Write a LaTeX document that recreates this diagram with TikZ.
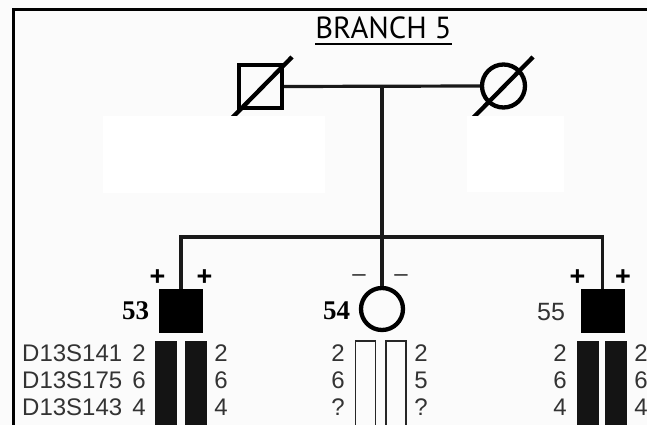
\documentclass[tikz,border=0pt]{standalone}
\usepackage{fontspec}
\setmainfont{Liberation Sans}
\newfontfamily\titlefont{PT Sans}
\newfontfamily\serifnum{Liberation Serif}
\definecolor{bgpaper}{gray}{0.985}
\definecolor{ink}{gray}{0.2}
\begin{document}
\begin{tikzpicture}[x=1pt,y=-1pt,
  sym/.style={draw=black,line width=4.3pt,inner sep=0pt},
  sqsym/.style={sym,rectangle,minimum size=43pt},
  circsym/.style={sym,circle,minimum size=43pt},
  affected/.style={rectangle,fill=black,draw=black,line width=1pt,inner sep=0pt,minimum size=43pt},
  fullbar/.style={rectangle,fill=black!92,inner sep=0pt,minimum width=22pt,minimum height=100pt},
  openbar/.style={rectangle,draw=black!85,line width=1.6pt,inner sep=0pt,minimum width=20pt,minimum height=100pt},
  allele/.style={inner sep=0pt,text=ink,font=\fontsize{24}{24}\selectfont},
  marker/.style={allele,anchor=west},
  sign/.style={inner sep=0pt,font=\bfseries\fontsize{27}{27}\selectfont},
  idnum/.style={inner sep=0pt,font=\serifnum\bfseries\fontsize{27}{27}\selectfont},
  link/.style={line width=3.2pt,draw=black!90},
  patch/.style={fill=white,draw=none}]
\useasboundingbox (0,0) rectangle (647,425);
\clip (0,0) rectangle (647,425);
\fill[bgpaper] (0,0) rectangle (647,425);
% frame
\draw[line width=3pt] (13,430) -- (13,10) -- (650,10);
% title
\node[inner sep=0pt,font=\titlefont\fontsize{30.5}{30.5}\selectfont] (title) at (383.5,28) {BRANCH 5};
\draw[line width=1.8pt] ([yshift=-5pt]title.south west) -- ([yshift=-5pt]title.south east);
% parents
\node[sqsym] (f) at (260.5,86.5) {};
\node[circsym] (m) at (503.5,86) {};
\coordinate (mid) at (382,86);
\draw[link] (f.east) -- (m.west);
\draw[line width=4.3pt] (230,120) -- (292,57);
\draw[line width=4.3pt] (471,120) -- (533,57);
\fill[patch] (103,116) rectangle (325,193);
\fill[patch] (467,116) rectangle (564,192);
% children
\node[affected] (c53) at (181,311) {};
\node[circsym,minimum size=42pt] (c54) at (382,309) {};
\node[affected] (c55) at (602.5,311) {};
\coordinate (sib) at (382,237);
\draw[link] (mid) -- (sib);
\draw[link] (c53.north) -- (c53.north |- sib) -- (c55.north |- sib) -- (c55.north);
\draw[link] (sib) -- (c54.north);
% signs
\node[sign] (p53a) at (157.5,278) {+};
\node[sign] (p53b) at (204.5,278) {+};
\node[sign] (p55a) at (577.5,278) {+};
\node[sign] (p55b) at (623,278) {+};
\node[inner sep=0pt,font=\fontsize{24}{24}\selectfont,text=ink] (m54a) at (359,278) {–};
\node[inner sep=0pt,font=\fontsize{24}{24}\selectfont,text=ink] (m54b) at (401,278) {–};
% ids
\node[idnum] (id53) at (135.5,311) {53};
\node[idnum] (id54) at (336.5,311) {54};
\node[inner sep=0pt,font=\fontsize{25}{25}\selectfont,text=ink] (id55) at (551,312.5) {55};
% bars
\node[fullbar] (b53l) at (165.5,391) {};
\node[fullbar] (b53r) at (195.5,391) {};
\node[openbar] (b54l) at (365.5,391) {};
\node[openbar] (b54r) at (396,391) {};
\node[fullbar] (b55l) at (587.5,391) {};
\node[fullbar] (b55r) at (616,391) {};
% markers
\node[marker] (mk1) at (22,353) {D13S141};
\node[marker] (mk2) at (22,380) {D13S175};
\node[marker] (mk3) at (22,407) {D13S143};
% alleles 53
\node[allele] (a53l1) at (139,353) {2};
\node[allele] (a53l2) at (139,380) {6};
\node[allele] (a53l3) at (139,407) {4};
\node[allele] (a53r1) at (221,353) {2};
\node[allele] (a53r2) at (221,380) {6};
\node[allele] (a53r3) at (221,407) {4};
% alleles 54
\node[allele] (a54l1) at (338,353) {2};
\node[allele] (a54l2) at (338,380) {6};
\node[allele] (a54l3) at (338,407) {?};
\node[allele] (a54r1) at (421,353) {2};
\node[allele] (a54r2) at (421,380) {5};
\node[allele] (a54r3) at (421,407) {?};
% alleles 55
\node[allele] (a55l1) at (560,353) {2};
\node[allele] (a55l2) at (560,380) {6};
\node[allele] (a55l3) at (560,407) {4};
\node[allele] (a55r1) at (641,353) {2};
\node[allele] (a55r2) at (641,380) {6};
\node[allele] (a55r3) at (641,407) {4};
\end{tikzpicture}
\end{document}
